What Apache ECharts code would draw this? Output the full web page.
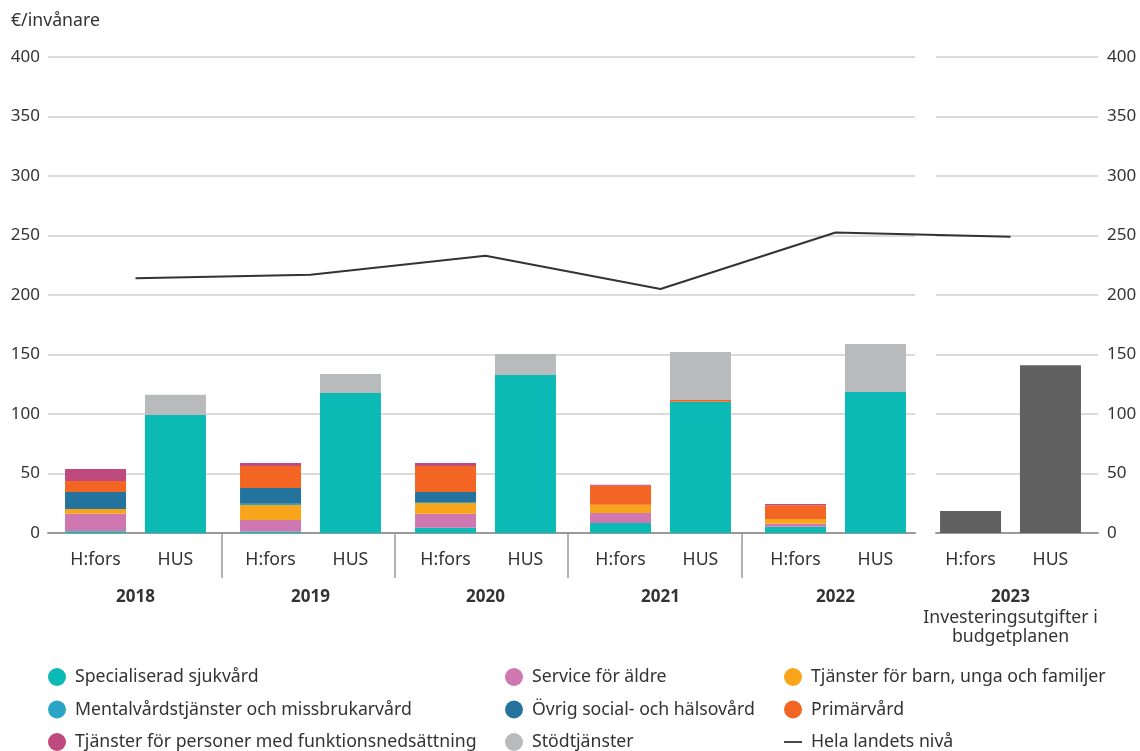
<!DOCTYPE html>
<html><head><meta charset="utf-8">
<script src="https://cdn.jsdelivr.net/npm/echarts@6/dist/echarts.min.js"></script>
<style>html,body{margin:0;padding:0;background:#fff}#c{width:1140px;height:751px}</style>
</head><body><div id="c"></div>
<script>
const years = ['2018', '2019', '2020', '2021', '2022', '2023'];
const units = ['H:fors', 'HUS'];
const subtitle2023 = ['Investeringsutgifter i', 'budgetplanen'];
const componentNames = ['Specialiserad sjukvård', 'Service för äldre', 'Tjänster för barn, unga och familjer',
  'Mentalvårdstjänster och missbrukarvård', 'Övrig social- och hälsovård', 'Primärvård',
  'Tjänster för personer med funktionsnedsättning', 'Stödtjänster'];
const componentColors = ['#0bb9b5', '#cf77b0', '#f9a51c', '#2aa5c6', '#24739e', '#f26522', '#be4a7e', '#b9babc'];
// H:fors values 2018-2022 (€/invånare)
const hforsSpec = [1.4, 1.2, 4.5, 8.4, 5.3];
const hforsAldre = [14.8, 9.8, 11.7, 8.4, 2.5];
const hforsBarn = [4.0, 12.6, 9.0, 7.0, 4.0];
const hforsMental = [0, 0.9, 0.8, 0, 0];
const hforsOvrig = [14.3, 13.4, 8.5, 0, 0];
const hforsPrimar = [9.2, 18.5, 21.8, 15.9, 11.5];
const hforsFunktion = [10.0, 2.5, 2.5, 0.8, 1.0];
const hforsStod = [0, 0, 0, 0, 0];
// HUS values 2018-2022
const husSpec = [99.2, 117.6, 132.8, 110.3, 118.5];
const husAldre = [0, 0, 0, 0, 0];
const husBarn = [0, 0, 0, 0, 0];
const husMental = [0, 0, 0, 0, 0];
const husOvrig = [0, 0, 0, 0, 0];
const husPrimar = [0, 0, 0, 1.5, 0];
const husFunktion = [0, 0, 0, 0, 0];
const husStod = [17.0, 16.0, 17.6, 40.2, 40.3];
// 2023 budget plan investments [H:fors, HUS]
const invest2023 = [18.5, 141];
const nationalName = 'Hela landets nivå';
const national = [214, 217, 233, 205, 252.5, 249];
const yTicks = {min: 0, max: 400, interval: 50};

const hforsData = [hforsSpec, hforsAldre, hforsBarn, hforsMental, hforsOvrig, hforsPrimar, hforsFunktion, hforsStod];
const husData = [husSpec, husAldre, husBarn, husMental, husOvrig, husPrimar, husFunktion, husStod];

const FONT = 'Noto Sans';
const FS = 17.7;
const TXT = '#333';
const BW = 61, GAP = '31%';
const pad = a => a.concat(['-']);

const series = [];
['hf', 'hus'].forEach((st, k) => {
  series.push({
    type: 'bar', stack: st, barWidth: BW, barGap: GAP, silent: true,
    data: years.map(() => 0), itemStyle: {color: 'rgba(0,0,0,0)'},
    label: {show: true, position: 'bottom', distance: 18, formatter: units[k],
      color: TXT, fontSize: FS, fontFamily: FONT}
  });
});
componentNames.forEach((n, i) => {
  series.push({type: 'bar', name: n, stack: 'hf', barWidth: BW, barGap: GAP,
    itemStyle: {color: componentColors[i]}, data: pad(hforsData[i])});
  series.push({type: 'bar', name: n, stack: 'hus', barWidth: BW, barGap: GAP,
    itemStyle: {color: componentColors[i]}, data: pad(husData[i])});
});
series.push({type: 'bar', name: '2023', stack: 'hf', barWidth: BW, barGap: GAP, itemStyle: {color: '#606060'},
  data: years.map((y, i) => i === 5 ? invest2023[0] : '-')});
series.push({type: 'bar', name: '2023', stack: 'hus', barWidth: BW, barGap: GAP, itemStyle: {color: '#606060'},
  data: years.map((y, i) => i === 5 ? invest2023[1] : '-')});
series.push({type: 'line', name: nationalName, data: national, symbol: 'none', z: 5,
  lineStyle: {color: '#333', width: 2}, itemStyle: {color: '#333'}});

const legendBase = {orient: 'vertical', itemWidth: 18, itemHeight: 18, itemGap: 14.5, top: 668, height: 90,
  padding: 0, icon: 'circle', selectedMode: false,
  textStyle: {color: TXT, fontSize: FS, fontFamily: FONT, padding: [0, 0, 0, 4]}};

const yLabel = {color: TXT, fontSize: 17, fontFamily: FONT};
const split = {show: true, lineStyle: {color: '#cfcfcf', width: 1.5}};
const baseLine = {show: true, lineStyle: {color: '#999', width: 2}};

const option = {
  backgroundColor: '#fff',
  animation: false,
  textStyle: {fontFamily: FONT},
  title: {text: '€/invånare', left: 6, top: 7, textStyle: {color: TXT, fontSize: FS, fontWeight: 'normal', fontFamily: FONT}},
  legend: [
    Object.assign({}, legendBase, {left: 48, data: [componentNames[0], componentNames[3], componentNames[6]]}),
    Object.assign({}, legendBase, {left: 505, data: [componentNames[1], componentNames[4], componentNames[7]]}),
    Object.assign({}, legendBase, {left: 784, data: [componentNames[2], componentNames[5], {name: nationalName, icon: 'path://M0,8 L20,8 L20,10 L0,10 Z'}]})
  ],
  grid: [
    {left: 48, right: 42, top: 57, bottom: 218},
    {left: 48, right: 225, top: 57, bottom: 218},
    {left: 936, right: 42, top: 57, bottom: 218}
  ],
  xAxis: [
    {type: 'category', gridIndex: 0, data: years, axisLine: {show: false}, axisTick: {show: false},
      axisLabel: {margin: 54, interval: 0,
        formatter: (v, i) => i === 5 ? '{y|' + v + '}\n{s|' + subtitle2023[0] + '}\n{s|' + subtitle2023[1] + '}' : '{y|' + v + '}',
        rich: {y: {fontWeight: 'bold', fontSize: 17, color: TXT, fontFamily: FONT, lineHeight: 21},
               s: {fontSize: FS, color: TXT, fontFamily: FONT, lineHeight: 19.5}}}},
    {type: 'category', gridIndex: 1, data: ['', '', '', '', '', ''], boundaryGap: false, axisLine: baseLine,
      axisTick: {show: true, length: 45, interval: (i) => i > 0 && i < 5, lineStyle: {color: '#999', width: 1.5}},
      axisLabel: {show: false}},
    {type: 'category', gridIndex: 2, data: [''], axisLine: baseLine, axisTick: {show: false}, axisLabel: {show: false}}
  ],
  yAxis: [
    Object.assign({type: 'value', gridIndex: 0, show: false}, yTicks),
    Object.assign({type: 'value', gridIndex: 1, axisLine: {show: false}, axisTick: {show: false},
      axisLabel: Object.assign({margin: 8}, yLabel), splitLine: split}, yTicks),
    Object.assign({type: 'value', gridIndex: 2, position: 'right', axisLine: {show: false}, axisTick: {show: false},
      axisLabel: Object.assign({margin: 9}, yLabel), splitLine: split}, yTicks)
  ],
  series: series
};
const chart = echarts.init(document.getElementById('c'), null, {renderer: 'canvas'});
chart.setOption(option);
</script>
</body></html>
